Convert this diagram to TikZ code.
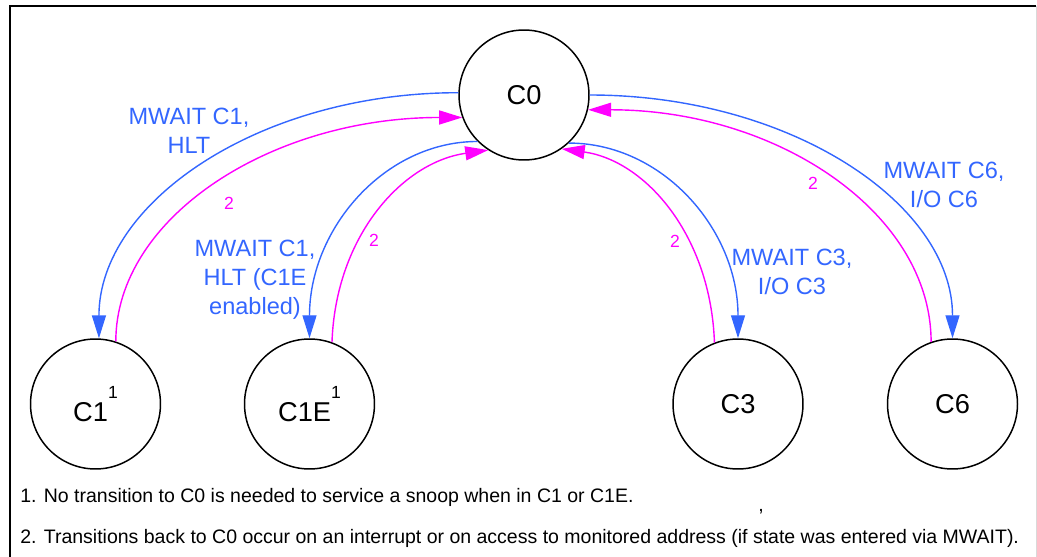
\documentclass[tikz,border=0pt]{standalone}
\usepackage{fontspec}
\setmainfont{Liberation Sans}
\usetikzlibrary{arrows.meta}
\definecolor{cblue}{RGB}{51,102,255}
\definecolor{cmag}{RGB}{255,0,255}
\newcommand{\fnmark}[1]{\raisebox{13pt}{\fontsize{10}{12}\selectfont #1}}

\begin{document}
\begin{tikzpicture}[
  x=0.02cm, y=0.02cm,
  >={Triangle[length=4.6mm, width=2.8mm]},
  state/.style = {draw, circle, line width=0.85pt, minimum size=2.6cm,
                  inner sep=0pt, font=\fontsize{15.5}{19}\selectfont},
  go/.style    = {->, cblue, line width=0.8pt},
  back/.style  = {->, cmag, line width=0.8pt},
  lbl/.style   = {text=cblue, align=center, inner sep=0pt,
                  font=\fontsize{13.4}{16.4}\selectfont},
  two/.style   = {text=cmag, inner sep=0pt, font=\fontsize{10}{12}\selectfont},
  note/.style  = {anchor=base west, inner sep=0pt,
                  font=\fontsize{11.1}{14}\selectfont}
]
\useasboundingbox (0,0) rectangle (1037,-557);

% frame
\draw[line width=1.1pt] (10,-557) -- (10,-6) -- (1036,-6);
\draw[black!15] (1036,-6) -- (1036,-557);

% states
\node[state] (c0)  at (524,-95)    {C0};
\node[state] (c1)  at (95.5,-404)  {C1\fnmark{1}};
\node[state] (c1e) at (309.5,-404) {C1E\fnmark{1}};
\node[state] (c3)  at (738,-404)   {C3};
\node[state] (c6)  at (952.5,-404) {C6};

% entering the sleep states
\draw[go] (c0.178) to[out=180, in=90, out distance=3.98cm, in distance=2.72cm] (c1.87);
\draw[go] (c0.225) to[out=180, in=90, out distance=1.86cm, in distance=2.19cm] (c1e.north);
\draw[go] (c0.313) to[out=0, in=90, out distance=1.88cm, in distance=2.17cm] (c3.north);
\draw[go] (c0.east) to[out=0, in=90, out distance=4.01cm, in distance=2.69cm] (c6.north);

% back to C0
\draw[back] (c1.72)   to[out=90, in=180, out distance=2.48cm, in distance=3.83cm] (c0.200);
\draw[back] (c1e.70)  to[out=88, in=188, out distance=2.13cm, in distance=1.73cm] (c0.237);
\draw[back] (c3.111)  to[out=92, in=352, out distance=2.15cm, in distance=1.69cm] (c0.305);
\draw[back] (c6.109)  to[out=90, in=0, out distance=2.57cm, in distance=3.80cm] (c0.347);

% labels
\node[lbl] (l1) at (189,-131) {MWAIT C1,\\HLT};
\node[lbl] (l2) at (255,-280) {MWAIT C1,\\HLT (C1E\\enabled)};
\node[lbl] (l3) at (792,-272) {MWAIT C3,\\I/O C3};
\node[lbl] (l4) at (944,-185) {MWAIT C6,\\I/O C6};
\node[two] (t1) at (229,-203) {2};
\node[two] (t2) at (374,-240) {2};
\node[two] (t3) at (675,-241) {2};
\node[two] (t4) at (813,-183) {2};

% notes
\node[note] (n1) at (20,-502) {1. No transition to C0 is needed to service a snoop when in C1 or C1E.};
\node[note] (n2) at (20,-543) {2. Transitions back to C0 occur on an interrupt or on access to monitored address (if state was entered via MWAIT).};
\node[note] (cm) at (758,-511) {,};

\end{tikzpicture}
\end{document}
